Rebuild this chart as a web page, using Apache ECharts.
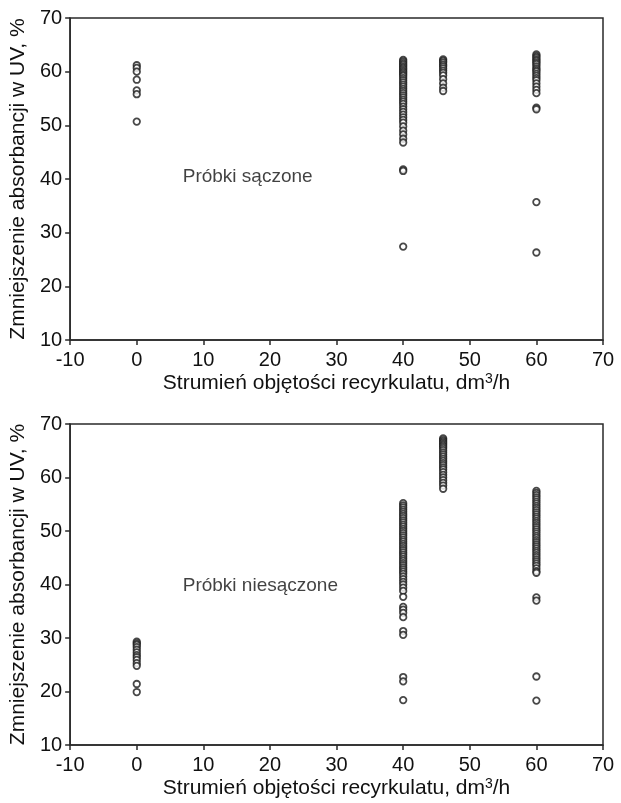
<!DOCTYPE html>
<html>
<head>
<meta charset="utf-8">
<script src="https://cdn.jsdelivr.net/npm/echarts@6/dist/echarts.min.js"></script>
<style>
  html, body { margin: 0; padding: 0; background: #fff; }
  #chart { width: 621px; height: 803px; }
</style>
</head>
<body>
<div id="chart"></div>
<script>
  // próbki sączone (górny wykres)
  const topX0 = [61.2, 60.7, 60.0, 58.5, 56.5, 55.8, 50.7];
  const topX40 = [62.2, 61.9, 61.6, 61.3, 61.0, 60.7, 60.4, 60.1, 59.8, 59.5, 59.2, 58.8, 58.4, 58.0,
    57.6, 57.2, 56.8, 56.4, 56.0, 55.6, 55.2, 54.8, 54.4, 54.0, 53.5, 53.0, 52.5, 52.0, 51.5, 51.0,
    50.5, 49.8, 49.0, 48.3, 47.5, 46.8, 41.8, 41.5, 27.4];
  const topX46 = [62.3, 62.0, 61.7, 61.3, 61.0, 60.6, 60.2, 59.8, 59.3, 58.6, 57.8, 57.0, 56.4];
  const topX60 = [63.2, 62.9, 62.6, 62.3, 62.0, 61.7, 61.4, 61.0, 60.6, 60.3, 60.0, 59.6, 59.2, 58.8,
    58.4, 57.8, 57.2, 56.6, 56.0, 53.3, 53.0, 35.7, 26.3];

  // próbki niesączone (dolny wykres)
  const botX0 = [29.3, 29.0, 28.7, 28.3, 27.8, 27.3, 26.8, 26.4, 25.9, 25.3, 24.8, 21.4, 19.9];
  const botX40 = [55.2, 54.8, 54.4, 54.0, 53.6, 53.2, 52.8, 52.4, 52.0, 51.6, 51.2, 50.8, 50.4, 50.0,
    49.6, 49.2, 48.8, 48.4, 48.0, 47.6, 47.2, 46.8, 46.4, 46.0, 45.6, 45.2, 44.8, 44.4, 44.0, 43.6,
    43.2, 42.8, 42.4, 42.0, 41.5, 41.0, 40.5, 40.0, 39.4, 38.8, 37.7, 35.8, 35.3, 34.7, 33.9, 31.3,
    30.6, 22.7, 21.9, 18.4];
  const botX46 = [67.3, 67.0, 66.7, 66.4, 66.1, 65.8, 65.5, 65.1, 64.7, 64.3, 63.9, 63.5, 63.1, 62.7,
    62.3, 61.9, 61.5, 61.0, 60.5, 60.0, 59.5, 59.0, 58.5, 57.9];
  const botX60 = [57.5, 57.1, 56.7, 56.3, 55.9, 55.5, 55.1, 54.7, 54.3, 53.9, 53.5, 53.1, 52.7, 52.3,
    51.9, 51.5, 51.1, 50.7, 50.3, 49.9, 49.5, 49.1, 48.7, 48.3, 47.9, 47.5, 47.1, 46.7, 46.3, 45.9,
    45.5, 45.1, 44.7, 44.3, 43.9, 43.5, 43.0, 42.5, 42.2, 37.6, 37.0, 22.8, 18.3];

  const xTicks = [-10, 0, 10, 20, 30, 40, 50, 60, 70];
  const yTicks = [10, 20, 30, 40, 50, 60, 70];

  const labelTop = 'Próbki sączone';
  const labelBot = 'Próbki niesączone';

  const font = 'Liberation Sans, Arial, sans-serif';
  const axisColor = '#2a2a2a';
  const textColor = '#111';

  const toPoints = (x, arr) => arr.map(v => [x, v]);

  const xAxisCfg = (gridIndex) => ({
    type: 'value',
    gridIndex: gridIndex,
    min: xTicks[0],
    max: xTicks[xTicks.length - 1],
    interval: 10,
    name: '{n|Strumień objętości recyrkulatu, dm}{s|3}{n|/h}',
    nameLocation: 'middle',
    nameGap: 32,
    nameTextStyle: {
      rich: {
        n: { fontSize: 21, color: textColor, fontFamily: font },
        s: { fontSize: 14, color: textColor, fontFamily: font, verticalAlign: 'top', padding: [0, 0, 9, 0] },
      },
    },
    axisLine: { show: true, onZero: false, lineStyle: { color: axisColor, width: 1.5 } },
    axisTick: { show: true, length: 5, lineStyle: { color: axisColor, width: 1.5 } },
    axisLabel: { fontSize: 20, color: textColor, fontFamily: font, margin: 10 },
    splitLine: { show: false },
  });

  const yAxisCfg = (gridIndex) => ({
    type: 'value',
    gridIndex: gridIndex,
    min: yTicks[0],
    max: yTicks[yTicks.length - 1],
    interval: 10,
    name: 'Zmniejszenie absorbancji w UV, %',
    nameLocation: 'middle',
    nameGap: 39,
    nameTextStyle: { fontSize: 21, color: textColor, fontFamily: font },
    axisLine: { show: true, onZero: false, lineStyle: { color: axisColor, width: 1.5 } },
    axisTick: { show: true, length: 5, lineStyle: { color: axisColor, width: 1.5 } },
    axisLabel: { fontSize: 20, color: textColor, fontFamily: font, margin: 8 },
    splitLine: { show: false },
  });

  const pointSeries = (idx, data) => ({
    type: 'scatter',
    xAxisIndex: idx,
    yAxisIndex: idx,
    symbol: 'circle',
    symbolSize: 6.5,
    itemStyle: { color: '#fff', borderColor: '#1a1a1a', borderWidth: 1.8 },
    data: data,
    silent: true,
  });

  const textSeries = (idx, x, y, text) => ({
    type: 'scatter',
    xAxisIndex: idx,
    yAxisIndex: idx,
    symbolSize: 0,
    data: [[x, y]],
    label: {
      show: true,
      position: 'right',
      distance: 0,
      formatter: text,
      fontSize: 19,
      color: textColor,
      fontFamily: font,
    },
    silent: true,
  });

  const chart = echarts.init(document.getElementById('chart'));
  const option = {
    animation: false,
    backgroundColor: '#fff',
    grid: [
      { left: 68, top: 18, width: 535, height: 322, show: true, borderColor: axisColor, borderWidth: 1.5 },
      { left: 68, top: 424, width: 535, height: 321, show: true, borderColor: axisColor, borderWidth: 1.5 },
    ],
    xAxis: [xAxisCfg(0), xAxisCfg(1)],
    yAxis: [yAxisCfg(0), yAxisCfg(1)],
    series: [
      pointSeries(0, [].concat(toPoints(0, topX0), toPoints(40, topX40), toPoints(46, topX46), toPoints(60, topX60))),
      pointSeries(1, [].concat(toPoints(0, botX0), toPoints(40, botX40), toPoints(46, botX46), toPoints(60, botX60))),
      textSeries(0, 6.9, 40.4, labelTop),
      textSeries(1, 6.9, 39.7, labelBot),
    ],
  };
  chart.setOption(option);
</script>
</body>
</html>
